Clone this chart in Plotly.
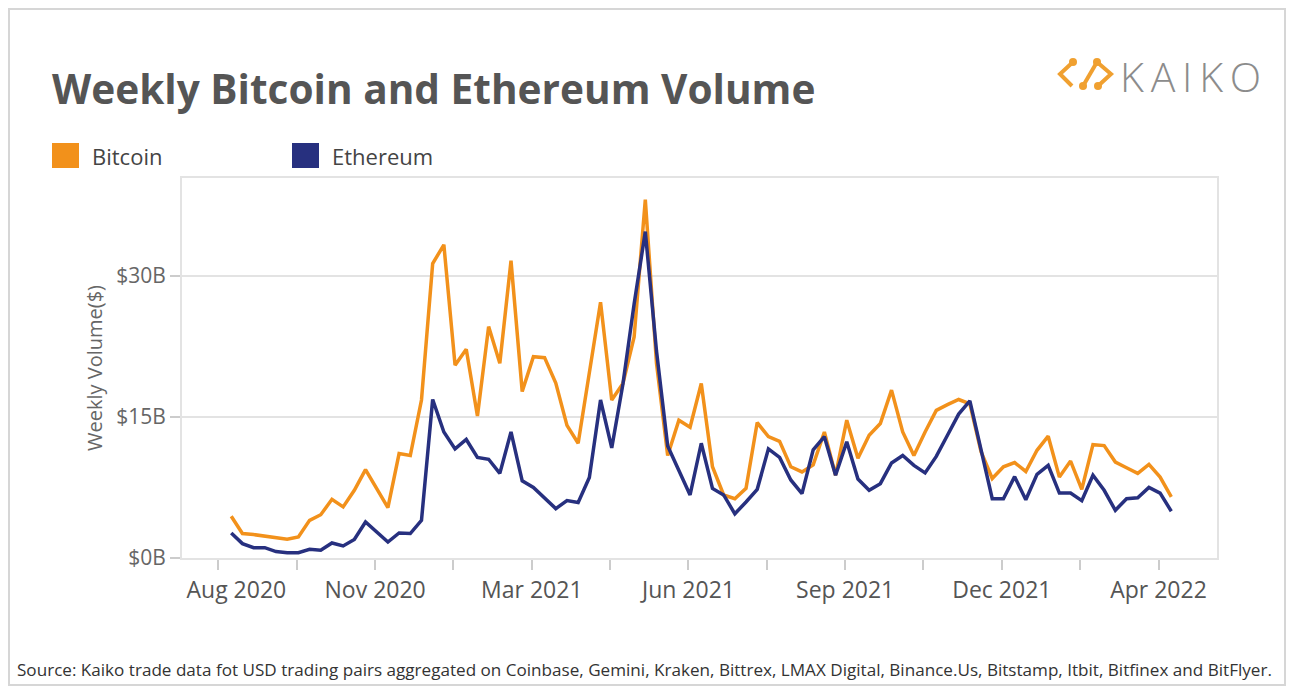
import pandas as pd
import plotly.graph_objects as go

# weekly volume in billions of USD, weeks starting 2020-09-01
start_week = "2020-09-01"
bitcoin = [4.44, 2.6, 2.49, 2.34, 2.17, 1.99, 2.24, 4.0, 4.6, 6.24,
           5.43, 7.2, 9.4, 7.34, 5.35, 11.1, 10.9, 16.8, 31.3, 33.3,
           20.5, 22.2, 15.1, 24.6, 20.7, 31.6, 17.7, 21.4, 21.3, 18.6,
           14.1, 12.2, 19.7, 27.2, 16.8, 18.55, 23.5, 38.1, 20.7, 10.9,
           14.65, 13.9, 18.55, 9.7, 6.7, 6.3, 7.4, 14.4, 12.9, 12.4,
           9.7, 9.15, 9.9, 13.4, 8.8, 14.65, 10.6, 13.05, 14.3, 17.85,
           13.4, 10.9, 13.4, 15.7, 16.3, 16.85, 16.4, 11.3, 8.45, 9.7,
           10.15, 9.2, 11.45, 12.95, 8.6, 10.3, 7.3, 12.05, 11.95, 10.2,
           9.6, 9.0, 9.95, 8.6, 6.5]
ethereum = [2.66, 1.53, 1.1, 1.1, 0.68, 0.57, 0.57, 0.93, 0.82, 1.6,
            1.28, 1.96, 3.83, 2.77, 1.7, 2.66, 2.6, 4.0, 16.85, 13.4,
            11.6, 12.6, 10.7, 10.5, 9.0, 13.4, 8.2, 7.5, 6.4, 5.25,
            6.1, 5.9, 8.55, 16.8, 11.7, 18.5, 27.0, 34.7, 22.0, 11.9,
            9.3, 6.7, 12.2, 7.4, 6.7, 4.7, 5.95, 7.3, 11.6, 10.7,
            8.3, 6.85, 11.5, 12.9, 8.8, 12.35, 8.4, 7.2, 7.9, 10.1,
            10.9, 9.85, 9.05, 10.8, 13.05, 15.3, 16.7, 11.3, 6.3, 6.3,
            8.65, 6.2, 8.9, 9.85, 6.9, 6.9, 6.1, 8.8, 7.2, 5.07,
            6.3, 6.4, 7.5, 6.9, 4.97]
y_ticks = [0, 15, 30]
y_labels = ["$0B", "$15B", "$30B"]

weeks = pd.date_range(start_week, periods=len(bitcoin), freq="7D")
tick_dates = pd.date_range("2020-08-24", periods=13, freq="49D")
tick_text = [d.strftime("%b %Y") if i % 2 == 0 else "" for i, d in enumerate(tick_dates)]
# first label sits a little right of its tick in the original
tick_text[0] = "\u00a0" * 6 + tick_text[0]

ORANGE = "#F2911B"
NAVY = "#27307F"
FONT = "Open Sans"

# the page puts the figure 8px in from the corner, so the figure is 16px smaller
OFF = 8
W, H = 1294 - 2 * OFF, 694 - 2 * OFF

# plot area in page pixels: x 182..1217, y 178..558
def px(x):
    return (x - 182) / 1035

def py(y):
    return (558 - y) / 380

fig = go.Figure()
fig.add_trace(go.Scatter(x=weeks, y=bitcoin, mode="lines", name="Bitcoin",
                         line=dict(color=ORANGE, width=3.5)))
fig.add_trace(go.Scatter(x=weeks, y=ethereum, mode="lines", name="Ethereum",
                         line=dict(color=NAVY, width=3.5)))

shapes = [
    # outer frame
    dict(type="rect", xref="paper", yref="paper", x0=px(9), x1=px(1285), y0=py(9), y1=py(685),
         line=dict(color="#d6d6d6", width=2), layer="below"),
    # legend squares
    dict(type="rect", xref="paper", yref="paper", x0=px(52), x1=px(79), y0=py(143), y1=py(168),
         fillcolor=ORANGE, line=dict(width=0)),
    dict(type="rect", xref="paper", yref="paper", x0=px(292), x1=px(319), y0=py(143), y1=py(168),
         fillcolor=NAVY, line=dict(width=0)),
]

# rough kaiko icon
icon = [
    [(1073, 62), (1060, 74), (1072, 86)],
    [(1083, 86), (1097, 62)],
    [(1097, 62), (1111, 74), (1098, 86)],
]
for seg in icon:
    path = "M " + " L ".join(f"{px(a)},{py(b)}" for a, b in seg)
    shapes.append(dict(type="path", xref="paper", yref="paper", path=path,
                       line=dict(color="#F0A030", width=4)))
for a, b in [(1073, 62), (1083, 86), (1097, 62), (1098, 86)]:
    shapes.append(dict(type="circle", xref="paper", yref="paper",
                       x0=px(a - 4), x1=px(a + 4), y0=py(b + 4), y1=py(b - 4),
                       fillcolor="#F0A030", line=dict(width=0)))

annotations = [
    dict(text="Bitcoin", x=px(90), y=py(156), xref="paper", yref="paper",
         xanchor="left", yanchor="middle", showarrow=False,
         font=dict(family=FONT, size=22, color="#444")),
    dict(text="Ethereum", x=px(330), y=py(156), xref="paper", yref="paper",
         xanchor="left", yanchor="middle", showarrow=False,
         font=dict(family=FONT, size=22, color="#444")),
    dict(text="K\u2009A\u2009I\u2009K\u2009O", x=px(1118), y=py(76), xref="paper", yref="paper",
         xanchor="left", yanchor="middle", showarrow=False,
         font=dict(family=FONT, size=41, color="#8c8c8c", weight=300)),
    dict(text="Source: Kaiko trade data fot USD trading pairs aggregated on Coinbase, Gemini, Kraken, "
              "Bittrex, LMAX Digital, Binance.Us, Bitstamp, Itbit, Bitfinex and BitFlyer.",
         x=px(15), y=py(669), xref="paper", yref="paper",
         xanchor="left", yanchor="middle", showarrow=False,
         font=dict(family=FONT, size=17.1, color="#333")),
]

fig.update_layout(
    width=W, height=H,
    margin=dict(l=182 - OFF, r=W - (1217 - OFF), t=178 - OFF, b=H - (558 - OFF)),
    paper_bgcolor="white", plot_bgcolor="white",
    showlegend=False,
    title=dict(text="<b>Weekly Bitcoin and Ethereum Volume</b>", x=(52 - OFF) / W, xanchor="left",
               y=1 - (90 - OFF) / H, yanchor="middle",
               font=dict(family=FONT, size=40.6, color="#555")),
    font=dict(family=FONT),
    shapes=shapes,
    annotations=annotations,
)
fig.update_xaxes(
    type="date", range=["2020-08-01 05:00", "2022-05-10 14:00"],
    tickvals=tick_dates, ticktext=tick_text,
    ticks="outside", ticklen=10, tickcolor="#ccc", tickwidth=2,
    showgrid=False, showline=True, linecolor="#e3e3e3", linewidth=2, mirror=True,
    tickfont=dict(family=FONT, size=23, color="#555"),
)
fig.update_yaxes(
    range=[0, 40.4], tickvals=y_ticks, ticktext=y_labels,
    ticks="outside", ticklen=10, tickcolor="#ccc", tickwidth=2,
    showgrid=True, gridcolor="#e3e3e3", gridwidth=2,
    showline=True, linecolor="#e3e3e3", linewidth=2, mirror=True, zeroline=False,
    tickfont=dict(family=FONT, size=21, color="#666"),
    title=dict(text="Weekly Volume($)", standoff=8, font=dict(family=FONT, size=20, color="#666")),
)

fig.write_html("out.html")
